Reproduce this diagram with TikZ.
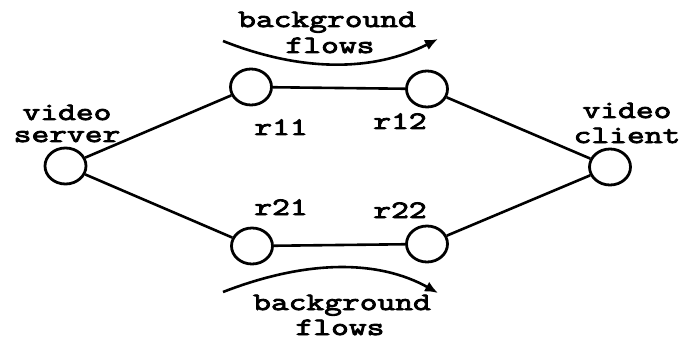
\documentclass[tikz,border=0pt]{standalone}
\usepackage{fontspec}
\newfontfamily\cour[FakeStretch=1.38,FakeBold=3.5]{Latin Modern Mono}
\usetikzlibrary{shapes.geometric,arrows.meta}
\begin{document}
\begin{tikzpicture}[x=1pt,y=-1pt,
  rt/.style={draw,ellipse,line width=2.8pt,minimum width=41pt,minimum height=36pt,inner sep=0pt},
  ln/.style={font=\cour\fontsize{25}{25}\selectfont,inner sep=0pt,anchor=base,text depth=0pt},
  link/.style={line width=2.6pt},
  flow/.style={line width=2.6pt,-{Latex[length=13pt,width=11pt]}}]
\useasboundingbox (0,0) rectangle (684,339);
\node[rt] (vs) at (65.5,166) {};
\node[rt] (r11) at (251,87) {};
\node[rt] (r12) at (427,89) {};
\node[rt] (r21) at (252,246) {};
\node[rt] (r22) at (427,244) {};
\node[rt] (vc) at (610,167) {};
\draw[link] (vs) -- (r11);
\draw[link] (vs) -- (r21);
\draw[link] (r11) -- (r12);
\draw[link] (r21) -- (r22);
\draw[link] (r12) -- (vc);
\draw[link] (r22) -- (vc);
\node[ln] (tvs1) at (67,120) {video};
\node[ln] (tvs2) at (67,142) {server};
\node[ln] (tvc1) at (627,118) {video};
\node[ln] (tvc2) at (627,143) {client};
\node[ln] (t11) at (281,135) {r11};
\node[ln] (t12) at (400,129) {r12};
\node[ln] (t21) at (281,215) {r21};
\node[ln] (t22) at (400,218) {r22};
\node[ln] (tbg1) at (327,27) {background};
\node[ln] (tbf1) at (330,53) {flows};
\node[ln] (tbg2) at (342,310) {background};
\node[ln] (tbf2) at (340,335) {flows};
\coordinate (a1) at (223,41);
\coordinate (b1) at (438,39);
\coordinate (a2) at (223,292);
\coordinate (b2) at (438,293);
\draw[flow] (a1) .. controls (301,72) and (373,72) .. (b1);
\draw[flow] (a2) .. controls (308,259) and (379,260) .. (b2);
\end{tikzpicture}
\end{document}
